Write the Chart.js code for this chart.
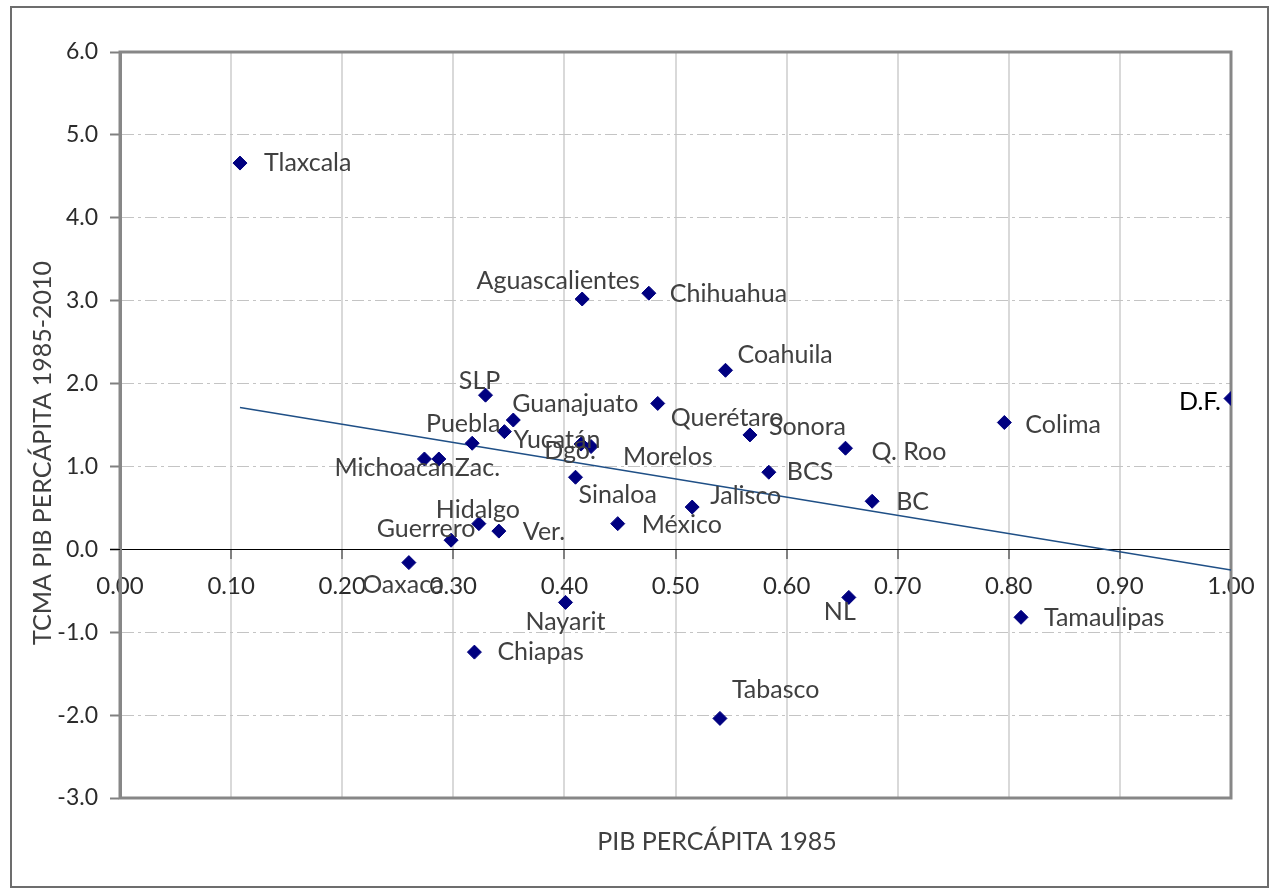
<!DOCTYPE html>
<html>
<head>
<meta charset="utf-8">
<script src="https://cdn.jsdelivr.net/npm/chart.js@4.4.1/dist/chart.umd.min.js"></script>
<style>
  html, body { margin: 0; padding: 0; background: #fff; }
  #wrap { width: 1270px; height: 890px; }
</style>
</head>
<body>
<div id="wrap"><canvas id="pibChart" width="1270" height="890"></canvas></div>
<script>
// TCMA del PIB per cápita 1985-2010 contra PIB per cápita 1985 (relativo al D.F.)

const states = [
  'Tlaxcala', 'Aguascalientes', 'Chihuahua', 'Coahuila', 'SLP', 'Guanajuato',
  'Querétaro', 'Yucatán', 'Puebla', 'Dgo.', 'Morelos', 'Sonora', 'Q. Roo',
  'Colima', 'D.F.', 'BCS', 'BC', 'Sinaloa', 'Jalisco', 'México', 'Michoacan',
  'Zac.', 'Hidalgo', 'Ver.', 'Guerrero', 'Oaxaca', 'Nayarit', 'Chiapas',
  'NL', 'Tamaulipas', 'Tabasco'
];
const pib1985 = [
  0.108, 0.416, 0.476, 0.545, 0.329, 0.354,
  0.484, 0.346, 0.317, 0.415, 0.424, 0.567, 0.653,
  0.796, 1.000, 0.584, 0.677, 0.410, 0.515, 0.448, 0.274,
  0.287, 0.323, 0.341, 0.298, 0.260, 0.401, 0.319,
  0.656, 0.811, 0.540
];
const tcma = [
  4.66, 3.02, 3.09, 2.16, 1.86, 1.56,
  1.76, 1.42, 1.28, 1.27, 1.24, 1.38, 1.22,
  1.53, 1.82, 0.93, 0.58, 0.87, 0.51, 0.31, 1.09,
  1.09, 0.31, 0.22, 0.11, -0.16, -0.64, -1.24,
  -0.58, -0.82, -2.04
];

// linea de tendencia (extremos)
const trendX = [0.108, 1.00];
const trendY = [1.71, -0.25];

const xTickValues = [0, 0.1, 0.2, 0.3, 0.4, 0.5, 0.6, 0.7, 0.8, 0.9, 1.0];
const yTickValues = [-3, -2, -1, 0, 1, 2, 3, 4, 5, 6];

// donde va cada etiqueta respecto a su punto
const labelPlacement = {
  'Tlaxcala':       { dx: 24,  dy: 0,   align: 'left' },
  'Aguascalientes': { dx: -24, dy: -18, align: 'center' },
  'Chihuahua':      { dx: 21,  dy: 1,   align: 'left' },
  'Coahuila':       { dx: 12,  dy: -15, align: 'left' },
  'SLP':            { dx: -6,  dy: -14, align: 'center' },
  'Guanajuato':     { dx: -1,  dy: -16, align: 'left' },
  'Querétaro':      { dx: 13,  dy: 14,  align: 'left' },
  'Yucatán':        { dx: 9,   dy: 8,   align: 'left' },
  'Puebla':         { dx: -9,  dy: -19, align: 'center' },
  'Dgo.':           { dx: -11, dy: 7,   align: 'center' },
  'Morelos':        { dx: 32,  dy: 10,  align: 'left' },
  'Sonora':         { dx: 19,  dy: -8,  align: 'left' },
  'Q. Roo':         { dx: 26,  dy: 4,   align: 'left' },
  'Colima':         { dx: 21,  dy: 2,   align: 'left' },
  'D.F.':           { dx: -10, dy: 3,   align: 'right', color: '#000' },
  'BCS':            { dx: 18,  dy: 0,   align: 'left' },
  'BC':             { dx: 24,  dy: 1,   align: 'left' },
  'Sinaloa':        { dx: 3,   dy: 18,  align: 'left' },
  'Jalisco':        { dx: 18,  dy: -11, align: 'left' },
  'México':         { dx: 24,  dy: 1,   align: 'left' },
  'Michoacan':      { dx: -30, dy: 9,   align: 'center' },
  'Zac.':           { dx: 16,  dy: 9,   align: 'left' },
  'Hidalgo':        { dx: -1,  dy: -14, align: 'center' },
  'Ver.':           { dx: 24,  dy: 1,   align: 'left' },
  'Guerrero':       { dx: -25, dy: -11, align: 'center' },
  'Oaxaca':         { dx: -6,  dy: 22,  align: 'center' },
  'Nayarit':        { dx: 0,   dy: 20,  align: 'center' },
  'Chiapas':        { dx: 23,  dy: 0,   align: 'left' },
  'NL':             { dx: -9,  dy: 15,  align: 'center' },
  'Tamaulipas':     { dx: 23,  dy: 1,   align: 'left' },
  'Tabasco':        { dx: 12,  dy: -28, align: 'left' }
};

const fontFamily = 'Lato, "Liberation Sans", sans-serif';

const chartFrame = {
  id: 'chartFrame',
  beforeDraw(chart) {
    const ctx = chart.ctx;
    ctx.save();
    ctx.fillStyle = '#fff';
    ctx.fillRect(0, 0, chart.width, chart.height);
    ctx.strokeStyle = '#6d6d6d';
    ctx.lineWidth = 2;
    ctx.strokeRect(11, 7, 1257, 880);
    ctx.restore();
  },
  beforeDatasetsDraw(chart) {
    const { ctx, chartArea: a } = chart;
    ctx.save();
    ctx.strokeStyle = '#878787';
    ctx.lineWidth = 3;
    ctx.strokeRect(a.left, a.top, a.right - a.left, a.bottom - a.top);
    // el eje x cruza en 0 y sobresale un poco a la izquierda
    const y0 = Math.round(chart.scales.y.getPixelForValue(0)) + 0.5;
    ctx.strokeStyle = '#000';
    ctx.lineWidth = 1;
    ctx.beginPath();
    ctx.moveTo(a.left - 10, y0);
    ctx.lineTo(a.left, y0);
    ctx.stroke();
    ctx.restore();
  },
  afterDraw(chart) {
    const ctx = chart.ctx;
    ctx.save();
    ctx.fillStyle = '#404040';
    ctx.font = '25px ' + fontFamily;
    ctx.textAlign = 'center';
    ctx.textBaseline = 'middle';
    ctx.fillText('PIB PERCÁPITA 1985', 717, 842);
    ctx.translate(43, 453);
    ctx.rotate(-Math.PI / 2);
    ctx.fillText('TCMA PIB PERCÁPITA 1985-2010', 0, 0);
    ctx.restore();
  }
};

const pointLabels = {
  id: 'pointLabels',
  afterDatasetsDraw(chart) {
    const meta = chart.getDatasetMeta(0);
    const ctx = chart.ctx;
    ctx.save();
    ctx.font = '25px ' + fontFamily;
    ctx.textBaseline = 'middle';
    meta.data.forEach((pt, i) => {
      const p = labelPlacement[states[i]] || { dx: 12, dy: 0, align: 'left' };
      ctx.textAlign = p.align;
      ctx.fillStyle = p.color || '#404040';
      ctx.fillText(states[i], pt.x + p.dx, pt.y + p.dy);
    });
    ctx.restore();
  }
};

const ctx = document.getElementById('pibChart').getContext('2d');
new Chart(ctx, {
  type: 'scatter',
  data: {
    datasets: [{
      label: 'Entidades',
      data: states.map((s, i) => ({ x: pib1985[i], y: tcma[i] })),
      pointStyle: 'rectRot',
      pointRadius: 7,
      backgroundColor: '#000080',
      borderColor: '#000080',
      borderWidth: 1,
      order: 1
    }, {
      type: 'line',
      label: 'Tendencia',
      data: trendX.map((x, i) => ({ x: x, y: trendY[i] })),
      borderColor: '#1f4f86',
      borderWidth: 1.5,
      pointRadius: 0,
      fill: false,
      order: 2
    }]
  },
  options: {
    responsive: false,
    animation: false,
    devicePixelRatio: 1,
    layout: { padding: { top: 52, right: 39, bottom: 92, left: 0 } },
    plugins: {
      legend: { display: false },
      tooltip: { enabled: false }
    },
    scales: {
      x: {
        type: 'linear',
        position: { y: 0 },
        min: 0,
        max: 1,
        afterBuildTicks: s => { s.ticks = xTickValues.map(v => ({ value: v })); },
        grid: { color: '#d9d9d9', lineWidth: 2, tickLength: 9, tickColor: '#808080', tickWidth: 2 },
        border: { color: '#000', width: 1 },
        ticks: {
          font: { family: fontFamily, size: 24 },
          color: '#2b2b2b',
          padding: 14,
          maxRotation: 0,
          autoSkip: false,
          callback: v => Number(v).toFixed(2)
        }
      },
      y: {
        type: 'linear',
        min: -3,
        max: 6,
        afterBuildTicks: s => { s.ticks = yTickValues.map(v => ({ value: v })); },
        afterFit: s => { s.width = 120; },
        grid: {
          color: c => (c.tick && c.tick.value === 0) ? 'rgba(0,0,0,0)' : '#c4c4c4',
          lineWidth: 1,
          tickLength: 10,
          tickColor: '#808080',
          tickWidth: 2
        },
        border: { color: '#878787', width: 3, dash: [12, 4, 3, 4] },
        ticks: {
          font: { family: fontFamily, size: 23 },
          color: '#2b2b2b',
          padding: 12,
          autoSkip: false,
          callback: v => Number(v).toFixed(1)
        }
      }
    }
  },
  plugins: [chartFrame, pointLabels]
});
</script>
</body>
</html>
